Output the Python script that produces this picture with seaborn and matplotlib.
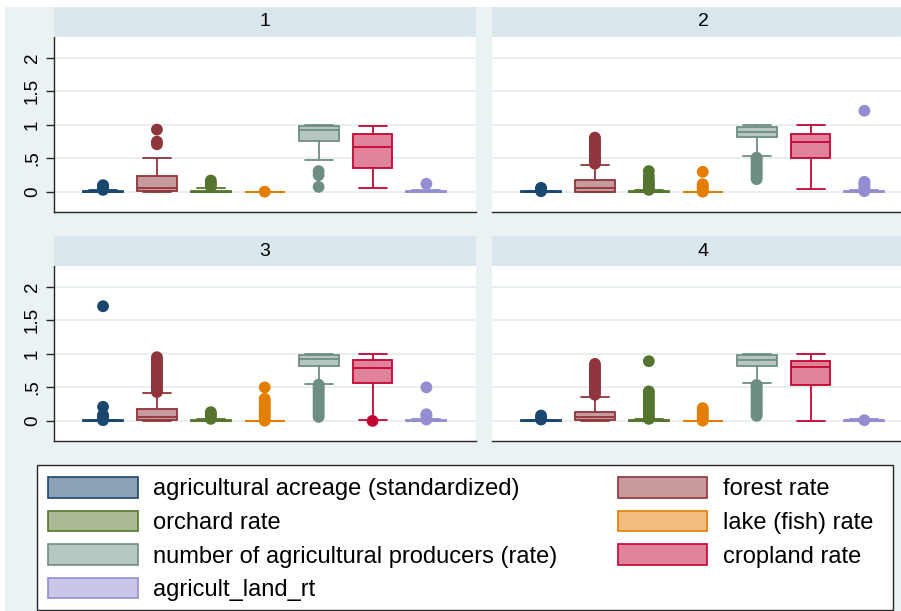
import matplotlib
matplotlib.use("Agg")
import matplotlib.pyplot as plt
import seaborn as sns
import pandas as pd
from matplotlib.patches import Patch, Rectangle

# ---------------------------------------------------------------- data
panels = [1, 2, 3, 4]
variables = [
    "agricultural acreage (standardized)",
    "forest rate",
    "orchard rate",
    "lake (fish) rate",
    "number of agricultural producers (rate)",
    "cropland rate",
    "agricult_land_rt",
]
tick_values = [0, 0.5, 1, 1.5, 2]
tick_labels = ["0", ".5", "1", "1.5", "2"]

# box statistics: one row per variable, one column per panel
q1_vals = [
    [0.0, 0.0, 0.0, 0.0],
    [0.01, 0.005, 0.015, 0.01],
    [0.0, 0.0, 0.0, 0.0],
    [0.0, 0.0, 0.0, 0.0],
    [0.756, 0.816, 0.819, 0.819],
    [0.352, 0.512, 0.561, 0.536],
    [0.0, 0.0, 0.0, 0.0],
]
med_vals = [
    [0.004, 0.004, 0.004, 0.004],
    [0.06, 0.06, 0.065, 0.06],
    [0.005, 0.005, 0.005, 0.005],
    [0.0, 0.0, 0.0, 0.0],
    [0.92, 0.896, 0.928, 0.908],
    [0.666, 0.746, 0.794, 0.809],
    [0.005, 0.005, 0.005, 0.005],
]
q3_vals = [
    [0.015, 0.012, 0.012, 0.012],
    [0.233, 0.17, 0.174, 0.139],
    [0.02, 0.012, 0.01, 0.012],
    [0.0, 0.0, 0.0, 0.0],
    [0.978, 0.975, 0.978, 0.983],
    [0.87, 0.866, 0.903, 0.893],
    [0.015, 0.015, 0.015, 0.012],
]
whislo_vals = [
    [0.0, 0.0, 0.0, 0.0],
    [0.0, 0.0, 0.005, 0.0],
    [0.0, 0.0, 0.0, 0.0],
    [0.0, 0.0, 0.0, 0.0],
    [0.48, 0.542, 0.556, 0.571],
    [0.054, 0.045, 0.02, 0.0],
    [0.0, 0.0, 0.0, 0.0],
]
whishi_vals = [
    [0.03, 0.02, 0.02, 0.02],
    [0.507, 0.40, 0.417, 0.362],
    [0.06, 0.025, 0.025, 0.025],
    [0.0, 0.0, 0.0, 0.0],
    [1.0, 1.0, 1.0, 1.0],
    [0.98, 1.0, 0.993, 0.998],
    [0.03, 0.03, 0.03, 0.025],
]
# outside values: one list per variable, one sub-list per panel
outside_acreage = [
    [0.03, 0.05, 0.07, 0.09, 0.10],
    [0.01, 0.03, 0.05, 0.06],
    [0.01, 0.04, 0.07, 0.09, 0.21, 1.71],
    [0.02, 0.05, 0.08],
]
outside_forest = [
    [0.71, 0.75, 0.93],
    [0.42, 0.45, 0.48, 0.51, 0.54, 0.57, 0.60, 0.63, 0.66, 0.69, 0.72, 0.75, 0.78, 0.81],
    [0.43, 0.46, 0.49, 0.52, 0.55, 0.58, 0.61, 0.64, 0.67, 0.70, 0.73, 0.76, 0.79,
     0.82, 0.85, 0.88, 0.91, 0.95],
    [0.39, 0.42, 0.45, 0.48, 0.51, 0.54, 0.57, 0.60, 0.63, 0.66, 0.69, 0.72, 0.75,
     0.78, 0.81, 0.85],
]
outside_orchard = [
    [0.08, 0.11, 0.14, 0.17],
    [0.03, 0.06, 0.09, 0.12, 0.15, 0.18, 0.24, 0.31],
    [0.03, 0.06, 0.09, 0.11, 0.13],
    [0.03, 0.06, 0.09, 0.12, 0.15, 0.18, 0.21, 0.24, 0.27, 0.30, 0.33, 0.36, 0.39,
     0.42, 0.44, 0.89],
]
outside_lake = [
    [0.003],
    [0.003, 0.03, 0.06, 0.09, 0.115, 0.30],
    [0.003, 0.03, 0.06, 0.09, 0.12, 0.15, 0.18, 0.21, 0.24, 0.27, 0.30, 0.33, 0.50],
    [0.003, 0.03, 0.06, 0.09, 0.12, 0.15, 0.19],
]
outside_producers = [
    [0.075, 0.25, 0.31],
    [0.19, 0.22, 0.25, 0.28, 0.31, 0.34, 0.37, 0.40, 0.43, 0.46, 0.49, 0.51],
    [0.06, 0.09, 0.12, 0.15, 0.18, 0.21, 0.24, 0.27, 0.30, 0.33, 0.36, 0.39, 0.42,
     0.45, 0.48, 0.51, 0.54],
    [0.075, 0.10, 0.13, 0.16, 0.19, 0.22, 0.25, 0.28, 0.31, 0.34, 0.37, 0.40, 0.43,
     0.46, 0.49, 0.52, 0.536],
]
outside_cropland = [[], [], [0.0], []]
outside_land = [
    [0.12],
    [0.01, 0.04, 0.07, 0.10, 0.13, 0.15, 1.21],
    [0.02, 0.05, 0.08, 0.10, 0.50],
    [0.01],
]
outside_vals = [outside_acreage, outside_forest, outside_orchard, outside_lake,
                outside_producers, outside_cropland, outside_land]

# ---------------------------------------------------------------- style
line_colors = ["#1A476F", "#90353B", "#55752F", "#E37E00", "#6E8E84", "#C10534", "#938DD2"]
fill_colors = ["#8CA3B7", "#C79A9D", "#AABA97", "#F1BE7F", "#B6C6C1", "#E08299", "#C9C6E8"]
bg_color = "#EAF2F3"
strip_color = "#D9E6EB"
grid_color = "#E6EEF0"
axis_color = "#262626"

sns.set_style("white")
plt.rcParams["font.family"] = ["Liberation Sans", "DejaVu Sans"]
plt.rcParams["text.color"] = "black"

W, H = 901, 611
fig = plt.figure(figsize=(W / 100, H / 100), dpi=100)
fig.patch.set_facecolor("white")
fig.add_artist(Rectangle((5 / W, 0), 1, 1 - 7 / H, transform=fig.transFigure,
                         facecolor=bg_color, edgecolor="none", zorder=0))


def rect(x0, y0, x1, y1):
    return [x0 / W, 1 - y1 / H, (x1 - x0) / W, (y1 - y0) / H]


# outside values in long form for seaborn
rows = []
for vi, per_panel in enumerate(outside_vals):
    for pi, vals in enumerate(per_panel):
        for v in vals:
            rows.append({"panel": panels[pi], "pos": vi, "value": v, "variable": variables[vi]})
outside_df = pd.DataFrame(rows)
palette = dict(zip(variables, line_colors))

lefts = [54, 492, 54, 492]
tops = [37, 37, 266, 266]
pw, ph, sh = 422, 175, 30
lw = 1.3

for pi, panel in enumerate(panels):
    x0, y0 = lefts[pi], tops[pi]
    ax = fig.add_axes(rect(x0, y0, x0 + pw, y0 + ph))
    ax.set_facecolor("white")
    ax.set_axisbelow(True)

    for vi in range(len(variables)):
        st = dict(q1=q1_vals[vi][pi], med=med_vals[vi][pi], q3=q3_vals[vi][pi],
                  whislo=whislo_vals[vi][pi], whishi=whishi_vals[vi][pi], fliers=[])
        c, f = line_colors[vi], fill_colors[vi]
        ax.bxp([st], positions=[vi], widths=0.74, capwidths=0.52, patch_artist=True,
               showfliers=False, manage_ticks=False,
               boxprops=dict(facecolor=f, edgecolor=c, linewidth=lw),
               medianprops=dict(color=c, linewidth=lw),
               whiskerprops=dict(color=c, linewidth=lw),
               capprops=dict(color=c, linewidth=lw))

    sub = outside_df[outside_df["panel"] == panel]
    sns.scatterplot(data=sub, x="pos", y="value", hue="variable", hue_order=variables,
                    palette=palette, s=72, linewidth=0, legend=False, ax=ax, zorder=3)

    ax.set_xlim(-0.91, 6.92)
    ax.set_ylim(-0.30, 2.31)
    ax.set_xlabel("")
    ax.set_ylabel("")
    ax.set_xticks([])
    ax.set_yticks(tick_values)
    ax.yaxis.grid(True, color=grid_color, linewidth=1.3)
    ax.xaxis.grid(False)
    for s in ("top", "right"):
        ax.spines[s].set_visible(False)
    ax.spines["bottom"].set_color(axis_color)
    ax.spines["bottom"].set_linewidth(1.0)
    if pi % 2 == 0:
        ax.spines["left"].set_color(axis_color)
        ax.spines["left"].set_linewidth(1.0)
        ax.set_yticklabels(tick_labels, rotation=90, va="center", fontsize=13.5)
        ax.tick_params(axis="y", left=True, length=5.5, width=1.0, color=axis_color,
                       pad=4, labelcolor="black")
    else:
        ax.spines["left"].set_visible(False)
        ax.set_yticklabels([])
        ax.tick_params(axis="y", left=False, length=0)

    sax = fig.add_axes(rect(x0, y0 - sh, x0 + pw, y0))
    sax.set_facecolor(strip_color)
    sax.set_xticks([])
    sax.set_yticks([])
    for s in sax.spines.values():
        s.set_visible(False)
    sax.text(0.5, 0.5, str(panel), ha="center", va="center", fontsize=14,
             color="black", transform=sax.transAxes)

# legend frame
fig.add_artist(Rectangle((37 / W, 1 - 610 / H), 856 / W, 145 / H, transform=fig.transFigure,
                         facecolor="white", edgecolor=axis_color, linewidth=1.0, zorder=1))

# legend entries (row-wise order across two columns)
order = [0, 2, 4, 6, 1, 3, 5]
handles = [Patch(facecolor=fill_colors[i], edgecolor=line_colors[i], linewidth=1.2,
                 label=variables[i]) for i in order]
leg = fig.legend(handles=handles, loc="upper left", ncol=2,
                 bbox_to_anchor=(48 / W, 1 - 477 / H),
                 borderaxespad=0, borderpad=0, fontsize=17, handlelength=3.8,
                 handleheight=0.97, handletextpad=0.65, labelspacing=0.43,
                 columnspacing=2.55, frameon=False, labelcolor="black")
leg.set_zorder(2)

fig.savefig("out.png", dpi=100)
